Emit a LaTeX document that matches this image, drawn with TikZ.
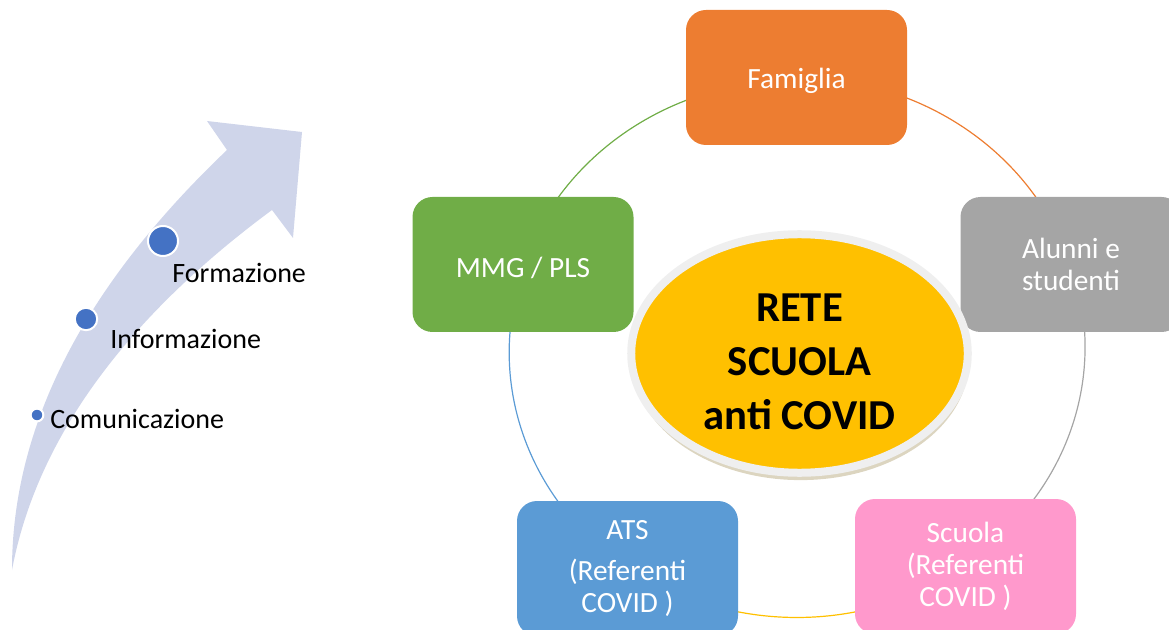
\documentclass[tikz,border=0pt]{standalone}
\usepackage{fontspec}
\setmainfont{Carlito}
\usetikzlibrary{shapes.geometric, backgrounds, shadows}
\definecolor{famorange}{HTML}{ED7D31}
\definecolor{mmggreen}{HTML}{70AD47}
\definecolor{alugray}{HTML}{A5A5A5}
\definecolor{atsblue}{HTML}{5B9BD5}
\definecolor{scupink}{HTML}{FF99CC}
\definecolor{retegold}{HTML}{FFC000}
\definecolor{dotblue}{HTML}{4472C4}
\definecolor{arrowlav}{HTML}{CFD5EA}
\definecolor{ringgray}{HTML}{EFEFEF}
\definecolor{shadowtan}{HTML}{DCD5C0}
\tikzstyle{box} = [rectangle, rounded corners=15pt, minimum width=165.75pt, minimum height=101.25pt, inner sep=0, text=white, align=center, font=\fontsize{22}{24}\selectfont, execute at begin node={\rule{0pt}{20pt}}]
\tikzstyle{dot} = [circle, inner sep=0, fill=dotblue, draw=white, line width=1.5pt]
\tikzstyle{steplabel} = [anchor=base west, inner sep=0, font=\fontsize{21}{25}\selectfont]
\tikzstyle{centre} = [ellipse, minimum width=252.4pt, minimum height=178.9pt, inner sep=0, fill=retegold, draw=ringgray, line width=6pt, drop shadow={shadow xshift=0.8pt, shadow yshift=-5.5pt, fill=shadowtan, opacity=1}]
\tikzstyle{ring} = [line width=0.9pt]

\begin{document}
\begin{tikzpicture}[x=0.75pt,y=-0.75pt]
\path[use as bounding box] (0,0) rectangle (1169,630);
\clip (0,0) rectangle (1169,630);

\fill[arrowlav] (12,570) .. controls (12,430) and (80,290) .. (227,150) -- (207,121) -- (302,132) -- (293,238) -- (272,210) .. controls (150,300) and (40,420) .. cycle;

\foreach \n/\x/\y/\d in {comm/37/415/9.5pt, info/86/319/16.8pt, form/163/241/22.5pt}
	\path (\x,\y) node[dot, minimum size=\d] (dot\n) {};
\foreach \n/\x/\y/\t in {comm/50/428/Comunicazione, info/110/349/Informazione, form/172/283/Formazione}
	\path (\x,\y) node[steplabel] (lab\n) {\t};

\path (796.5,77.5) node[box, fill=famorange] (fam) {Famiglia};
\path (1071,264.5) node[box, fill=alugray] (alu) {Alunni e\\studenti};
\path (965.5,566.5) node[box, fill=scupink] (scu) {Scuola\\(Referenti\\COVID )};
\path (627.5,568.5) node[box, fill=atsblue] (ats) {ATS\\[6.75pt](Referenti\\COVID )};
\path (523,264.5) node[box, fill=mmggreen] (mmg) {MMG / PLS};

\begin{pgfonlayer}{background}
\draw[ring, famorange] (fam.center) arc[start angle=-90, end angle=-18, x radius=287, y radius=267];
\draw[ring, alugray] (alu.center) arc[start angle=-18, end angle=54, x radius=287, y radius=267];
\draw[ring, retegold] (scu.center) arc[start angle=54, end angle=126, x radius=287, y radius=267];
\draw[ring, atsblue] (ats.center) arc[start angle=126, end angle=198, x radius=287, y radius=267];
\draw[ring, mmggreen] (mmg.center) arc[start angle=198, end angle=270, x radius=287, y radius=267];
\end{pgfonlayer}

\path (799.5,353.5) node[centre] (rete) {};
\path ([yshift=-6.5pt]rete.center) node[align=center, font=\bfseries\fontsize{32}{40.5}\selectfont] (retetext) {RETE\\SCUOLA\\anti COVID};
\end{tikzpicture}
\end{document}
